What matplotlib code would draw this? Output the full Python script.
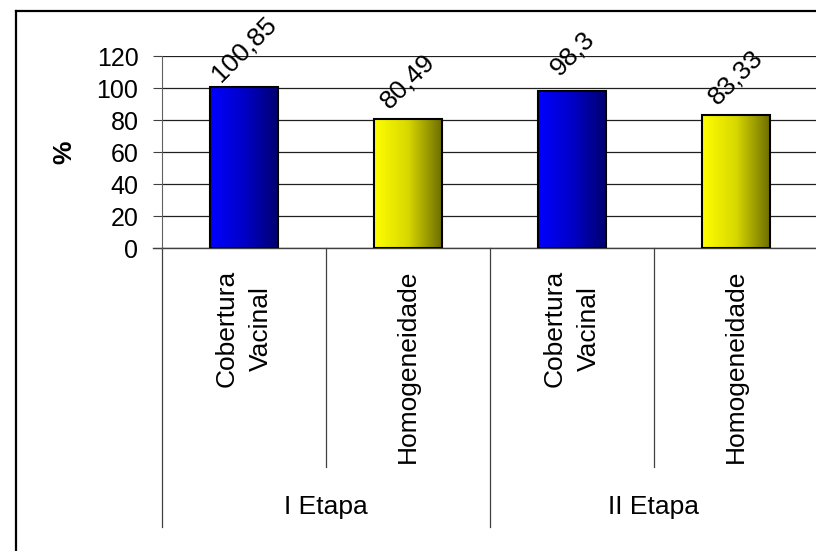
import numpy as np
import matplotlib
matplotlib.use("Agg")
import matplotlib.pyplot as plt
from matplotlib.colors import LinearSegmentedColormap
from matplotlib.transforms import blended_transform_factory

plt.rcParams['font.family'] = ['Liberation Sans', 'DejaVu Sans']

# data
categories = ["Cobertura\nVacinal", "Homogeneidade", "Cobertura\nVacinal", "Homogeneidade"]
groups = ["I Etapa", "II Etapa"]
values = [100.85, 80.49, 98.3, 83.33]
value_labels = ["100,85", "80,49", "98,3", "83,33"]
yticks = [0, 20, 40, 60, 80, 100, 120]

W, H = 816, 551
fig = plt.figure(figsize=(W / 100, H / 100), dpi=100)

def fy(py):
    return 1 - py / H

ax_left, ax_right = 162, 818
ax_top, ax_bottom = 56, 248
ax = fig.add_axes([ax_left / W, fy(ax_bottom), (ax_right - ax_left) / W,
                   (ax_bottom - ax_top) / H])

def axy(py):
    # figure pixel row -> axes fraction
    return (fy(py) - fy(ax_bottom)) / ((ax_bottom - ax_top) / H)

x = np.arange(len(values))
bar_w = 0.41
cmaps = [
    LinearSegmentedColormap.from_list("blue", ["#0000ff", "#0000c8", "#000070"]),
    LinearSegmentedColormap.from_list("yel", ["#ffff00", "#d8d800", "#6e6e00"]),
]
grad = np.linspace(0, 1, 256).reshape(1, -1)

bars = ax.bar(x, values, width=bar_w, facecolor="none", edgecolor="black",
              linewidth=1.5, zorder=4)
for i, b in enumerate(bars):
    im = ax.imshow(grad, cmap=cmaps[i % 2], aspect="auto",
                   extent=[b.get_x(), b.get_x() + b.get_width(), 0, b.get_height()],
                   zorder=3)
    im.set_clip_path(b)

for i, v in enumerate(values):
    ax.annotate(value_labels[i], (x[i], v), xytext=(0, 27), textcoords="offset points",
                ha="center", va="center", rotation=45, rotation_mode="anchor",
                fontsize=19, zorder=5, annotation_clip=False)

ax.set_xlim(-0.5, 3.5)
ax.set_ylim(0, 120)
ax.set_yticks(yticks)
ax.set_yticklabels([str(t) for t in yticks], fontsize=18)
ax.tick_params(axis="y", length=6.5, width=0.8, color="#404040", pad=10.5)
ax.set_xticks([])
ax.yaxis.grid(True, color="#202020", linewidth=0.9)
ax.set_axisbelow(True)
for s in ["top", "right", "bottom"]:
    ax.spines[s].set_visible(False)
ax.spines["left"].set_color("#606060")
ax.axhline(0, color="#404040", linewidth=1, zorder=2, clip_on=False)
ax.plot([ax.get_xlim()[0] - 0.055, ax.get_xlim()[0]], [0, 0], color="#404040",
        linewidth=1, clip_on=False)

ax.set_ylabel("%", fontsize=19, fontweight="bold")
ax.yaxis.set_label_coords((76 - ax_left) / (ax_right - ax_left), 0.5)

trans = blended_transform_factory(ax.transData, ax.transAxes)
# category separators
for xs in [0.5, 2.5]:
    ax.plot([xs, xs], [0, axy(467)], transform=trans, color="#404040",
            linewidth=0.9, clip_on=False)
for xs in [-0.5, 1.5]:
    ax.plot([xs, xs], [0, axy(527)], transform=trans, color="#404040",
            linewidth=0.9, clip_on=False)

for i, c in enumerate(categories):
    ax.text(x[i], axy(270), c, transform=trans, rotation=90, ha="center", va="top",
            fontsize=19, linespacing=1.55, multialignment="center")
for j, g in enumerate(groups):
    ax.text(2 * j + 0.5, axy(507), g, transform=trans, ha="center", va="center",
            fontsize=19)

# outer chart frame
fig.add_artist(plt.Line2D([16 / W, 16 / W], [0, fy(11)], transform=fig.transFigure,
                          color="black", linewidth=1.6))
fig.add_artist(plt.Line2D([16 / W, 1], [fy(11), fy(11)], transform=fig.transFigure,
                          color="black", linewidth=1.6))

fig.savefig("out.png", dpi=100)
